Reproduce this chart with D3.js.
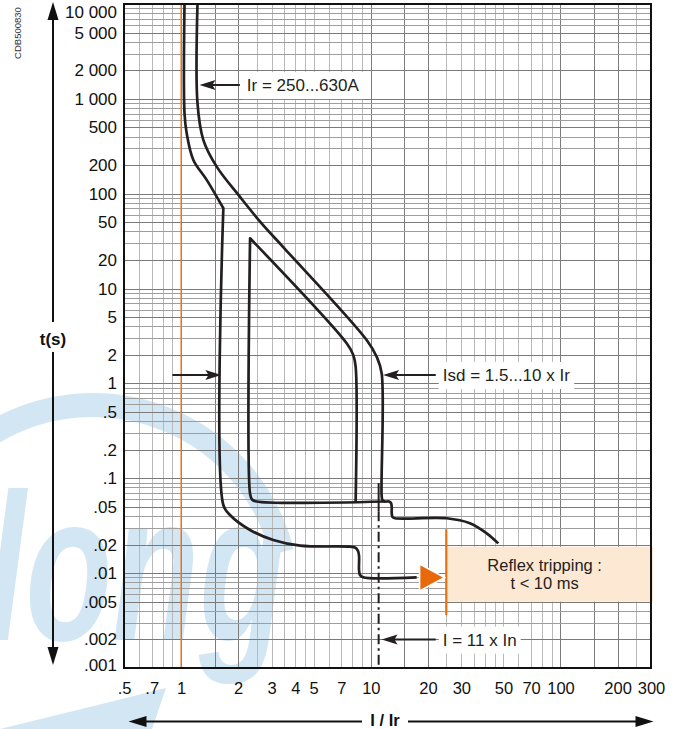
<!DOCTYPE html>
<html lang="en">
<head>
<meta charset="UTF-8" />
<title>Tripping curve</title>
<script src="https://cdn.jsdelivr.net/npm/d3@7"></script>
<style>
  body { margin: 0; background: #fff; }
  svg { display: block; font-family: "Liberation Sans", Arial, sans-serif; }
</style>
</head>
<body>
<div id="chart"></div>
<script>
// tick labels as printed on the sheet
const xTicks = [0.5, 0.7, 1, 2, 3, 4, 5, 7, 10, 20, 30, 50, 70, 100, 200, 300];
const xTickLabels = [".5", ".7", "1", "2", "3", "4", "5", "7", "10", "20", "30", "50", "70", "100", "200", "300"];
const yTicks = [10000, 5000, 2000, 1000, 500, 200, 100, 50, 20, 10, 5, 2, 1, 0.5, 0.2, 0.1, 0.05, 0.02, 0.01, 0.005, 0.002, 0.001];
const yTickLabels = ["10 000", "5 000", "2 000", "1 000", "500", "200", "100", "50", "20", "10", "5", "2", "1", ".5", ".2", ".1", ".05", ".02", ".01", ".005", ".002", ".001"];

// grid steps inside one decade
const xGridSteps = [1, 1.5, 2, 2.5, 3, 3.5, 4, 4.5, 5, 6, 7, 8, 9];
const yGridSteps = [1, 2, 3, 4, 5, 6, 7, 8, 9];

// curves as [I/Ir, t (s)] ; a repeated point = sharp corner
const curveMax = [
  [1.22, 10000], [1.22, 900], [1.31, 368], [1.54, 193], [2.04, 93], [2.67, 48], [3.53, 26.1],
  [9.51, 2.87], [10.74, 1.91], [11.41, 1.28], [11.41, 0.0651], [11.52, 0.059], [11.88, 0.0569],
  [12.47, 0.0569], [12.78, 0.0549], [12.89, 0.0498], [12.89, 0.0431], [13.01, 0.0391], [13.42, 0.0379],
  [25.1, 0.0379], [33.3, 0.0336], [40.8, 0.0263], [47, 0.0206]
];
const curveMin = [
  [1.042, 10000], [1.042, 710], [1.07, 434], [1.16, 227], [1.364, 140], [1.67, 70.2], [1.67, 70.2],
  [1.67, 0.0523], [1.81, 0.041], [2.31, 0.0285], [3.06, 0.0224], [4.24, 0.0195], [7.77, 0.019],
  [8.25, 0.01862], [8.56, 0.01714], [8.67, 0.01517], [8.67, 0.01079], [8.77, 0.00957], [9.1, 0.00904],
  [17.45, 0.00904]
];
const curveTsd = [
  [11.88, 0.0569], [2.5, 0.0569], [2.365, 0.0598], [2.31, 0.0683], [2.31, 33.9], [2.31, 33.9],
  [7.46, 2.65], [8.08, 2.0], [8.32, 1.5], [8.32, 0.0569]
];

// I = 11 x In marker (solid stub then dash-dot)
const instI = 11;
const instStub = [0.089, 0.045];
const instDash = [0.045, 0.001];

const notes = [
  { text: "Ir = 250...630A", tip: [1.25, 1400], tail: [2.04, 1400] },
  { text: "", tip: [1.63, 1.23], tail: [0.9, 1.23] },
  { text: "Isd = 1.5...10 x Ir", tip: [11.6, 1.23], tail: [22, 1.23] },
  { text: "I = 11 x In", tip: [11.4, 0.002], tail: [22, 0.002] }
];

const reflexI = 25;
const reflexBox = [0.019, 0.005];
const reflexLine = [0.029, 0.0036];
const reflexTip = [24.5, 0.009];
const reflexText = ["Reflex tripping :", "t < 10 ms"];

const W = 680, H = 729;
const plot = { left: 124, right: 651, top: 4, bottom: 668 };

const x = d3.scaleLog().domain([0.5, 300]).range([plot.left, plot.right]);
const y = d3.scaleLog().domain([0.001, 10000]).range([plot.bottom, plot.top]);

const svg = d3.select("#chart").append("svg")
  .attr("width", W)
  .attr("height", H);

svg.append("rect").attr("width", W).attr("height", H).attr("fill", "#fff");

// faint watermark behind everything
const wmColor = "#d3e6f3";
const wm = svg.append("g");
wm.append("path")
  .attr("d", "M -6 432 A 195 195 0 0 1 282 552")
  .attr("fill", "none")
  .attr("stroke", wmColor)
  .attr("stroke-width", 24);
wm.append("text")
  .attr("x", -14)
  .attr("y", 640)
  .attr("font-size", 210)
  .attr("font-style", "italic")
  .attr("font-weight", "bold")
  .attr("textLength", 300)
  .attr("lengthAdjust", "spacingAndGlyphs")
  .attr("fill", wmColor)
  .text("long");
wm.append("path")
  .attr("d", "M 0 729 L 110 702 L 166 688 L 152 729 Z")
  .attr("fill", wmColor);

// grid
const xGrid = [], yGrid = [];
d3.range(-1, 3).forEach(p => xGridSteps.forEach(s => {
  const v = +(s * Math.pow(10, p)).toPrecision(6);
  if (v > 0.5 && v < 300) xGrid.push({ v, s });
}));
d3.range(-3, 4).forEach(p => yGridSteps.forEach(s => {
  const v = +(s * Math.pow(10, p)).toPrecision(6);
  if (v > 0.001 && v < 10000) yGrid.push({ v, s });
}));

const grid = svg.append("g").attr("stroke-width", 1).attr("shape-rendering", "crispEdges");
grid.selectAll(".gx").data(xGrid).join("line")
  .attr("x1", d => Math.round(x(d.v)) + 0.5).attr("x2", d => Math.round(x(d.v)) + 0.5)
  .attr("y1", plot.top).attr("y2", plot.bottom)
  .attr("stroke", d => (d.s === 1 || d.s === 1.5 || d.s === 2) ? "#7d7d7d" : "#b9b9b9");
grid.selectAll(".gy").data(yGrid).join("line")
  .attr("y1", d => Math.round(y(d.v)) + 0.5).attr("y2", d => Math.round(y(d.v)) + 0.5)
  .attr("x1", plot.left).attr("x2", plot.right)
  .attr("stroke", d => (d.s === 1 || d.s === 2 || d.s === 5) ? "#7a7a7a" : "#9e9e9e");

// Ir reference at I/Ir = 1
svg.append("line")
  .attr("x1", x(1)).attr("x2", x(1))
  .attr("y1", plot.top).attr("y2", plot.bottom)
  .attr("stroke", "#ee7a1c").attr("stroke-width", 1.3);

// trip curves
const line = d3.line()
  .x(d => x(d[0]))
  .y(d => y(d[1]))
  .curve(d3.curveCatmullRom.alpha(0.5));

const ink = "#231f20";
[curveMax, curveMin, curveTsd].forEach(c => {
  svg.append("path")
    .datum(c)
    .attr("fill", "none")
    .attr("stroke", ink)
    .attr("stroke-width", 2.7)
    .attr("stroke-linejoin", "round")
    .attr("d", line);
});

// instantaneous marker
svg.append("line")
  .attr("x1", x(instI)).attr("x2", x(instI))
  .attr("y1", y(instStub[0])).attr("y2", y(instStub[1]))
  .attr("stroke", ink).attr("stroke-width", 2);
svg.append("line")
  .attr("x1", x(instI)).attr("x2", x(instI))
  .attr("y1", y(instDash[0])).attr("y2", y(instDash[1]))
  .attr("stroke", ink).attr("stroke-width", 2)
  .attr("stroke-dasharray", "10,4,2.5,4");

function arrowHead(g, tx, ty, dir) {
  const L = 16, hw = 5;
  const s = dir === "left" ? 1 : -1;
  g.append("path")
    .attr("d", `M${tx},${ty} L${tx + s * L},${ty - hw} L${tx + s * L * 0.8},${ty} L${tx + s * L},${ty + hw} Z`)
    .attr("fill", ink);
}

// annotations
const ann = svg.append("g").attr("font-size", 17).attr("fill", ink);
notes.forEach(n => {
  const tx = x(n.tip[0]), ty = y(n.tip[1]);
  const ex = x(n.tail[0]);
  const dir = ex > tx ? "left" : "right";
  if (n.text) {
    const t = ann.append("text")
      .attr("x", ex + 7)
      .attr("y", ty)
      .attr("dy", "0.36em")
      .text(n.text);
    const b = t.node().getBBox();
    ann.insert("rect", "text")
      .attr("x", b.x - 4).attr("y", b.y - 4)
      .attr("width", b.width + 8).attr("height", b.height + 8)
      .attr("fill", "#fff");
  }
  ann.append("line")
    .attr("x1", ex).attr("x2", tx + (dir === "left" ? 8 : -8))
    .attr("y1", ty).attr("y2", ty)
    .attr("stroke", ink).attr("stroke-width", 2);
  arrowHead(ann, tx, ty, dir);
});

// reflex tripping box
const bx0 = x(reflexI);
svg.append("rect")
  .attr("x", bx0).attr("y", y(reflexBox[0]))
  .attr("width", plot.right + 2 - bx0)
  .attr("height", y(reflexBox[1]) - y(reflexBox[0]))
  .attr("fill", "#fce8d3");
svg.append("line")
  .attr("x1", bx0).attr("x2", bx0)
  .attr("y1", y(reflexLine[0])).attr("y2", y(reflexLine[1]))
  .attr("stroke", "#e8710d").attr("stroke-width", 2.2);
const rtx = x(reflexTip[0]), rty = y(reflexTip[1]);
svg.append("path")
  .attr("d", `M${rtx},${rty} L${rtx - 25},${rty - 13.5} L${rtx - 25},${rty + 13.5} Z`)
  .attr("fill", "#e8690a")
  .attr("stroke", "#fff").attr("stroke-width", 1.5);
const rcx = (bx0 + plot.right) / 2 - 4;
svg.append("text")
  .attr("x", rcx).attr("y", y(reflexBox[0]))
  .attr("text-anchor", "middle").attr("font-size", 16.5).attr("fill", ink)
  .selectAll("tspan").data(reflexText).join("tspan")
  .attr("x", rcx)
  .attr("dy", (d, i) => i === 0 ? 24 : 18)
  .text(d => d);

// frame
svg.append("rect")
  .attr("x", plot.left).attr("y", plot.top)
  .attr("width", plot.right - plot.left).attr("height", plot.bottom - plot.top)
  .attr("fill", "none").attr("stroke", "#111").attr("stroke-width", 2);

// axes labels
const yAxis = svg.append("g")
  .attr("transform", `translate(${plot.left},0)`)
  .call(d3.axisLeft(y).tickValues(yTicks).tickFormat((d, i) => yTickLabels[i]).tickSize(0).tickPadding(7));
yAxis.select(".domain").remove();
yAxis.selectAll("text")
  .attr("y", d => Math.max(12, Math.min(665, y(d))) - y(d))
  .attr("font-size", 17).attr("font-family", null).attr("fill", "#111");

const xAxis = svg.append("g")
  .attr("transform", `translate(0,${plot.bottom})`)
  .call(d3.axisBottom(x).tickValues(xTicks).tickFormat((d, i) => xTickLabels[i]).tickSize(0).tickPadding(14));
xAxis.select(".domain").remove();
xAxis.selectAll("text").attr("font-size", 16.5).attr("font-family", null).attr("fill", "#111");

// t(s) axis arrow
const ay = svg.append("g");
ay.append("line").attr("x1", 53).attr("x2", 53).attr("y1", 14).attr("y2", 654)
  .attr("stroke", "#111").attr("stroke-width", 2);
ay.append("path").attr("d", "M53,2 L47.5,20 L58.5,20 Z").attr("fill", "#111");
ay.append("path").attr("d", "M53,665 L47.5,647 L58.5,647 Z").attr("fill", "#111");
ay.append("rect").attr("x", 30).attr("y", 322).attr("width", 46).attr("height", 30).attr("fill", "#fff");
ay.append("text").attr("x", 53).attr("y", 339).attr("dy", "0.35em")
  .attr("text-anchor", "middle").attr("font-weight", "bold").attr("font-size", 17).attr("fill", "#111")
  .text("t(s)");

// I / Ir axis arrow
const ax = svg.append("g");
ax.append("line").attr("x1", 140).attr("x2", 642).attr("y1", 721.5).attr("y2", 721.5)
  .attr("stroke", "#111").attr("stroke-width", 2);
ax.append("path").attr("d", "M128.5,721.5 L146.5,716 L146.5,727 Z").attr("fill", "#111");
ax.append("path").attr("d", "M653.5,721.5 L635.5,716 L635.5,727 Z").attr("fill", "#111");
ax.append("rect").attr("x", 362).attr("y", 710).attr("width", 46).attr("height", 19).attr("fill", "#fff");
ax.append("text").attr("x", 385).attr("y", 720.5).attr("dy", "0.35em")
  .attr("text-anchor", "middle").attr("font-weight", "bold").attr("font-size", 16.5).attr("fill", "#111")
  .text("I / Ir");

// drawing reference
svg.append("text")
  .attr("transform", "translate(18,33) rotate(-90)")
  .attr("text-anchor", "middle").attr("dy", "0.35em")
  .attr("font-size", 9.5).attr("fill", "#333")
  .text("CDB500830");
</script>
</body>
</html>
